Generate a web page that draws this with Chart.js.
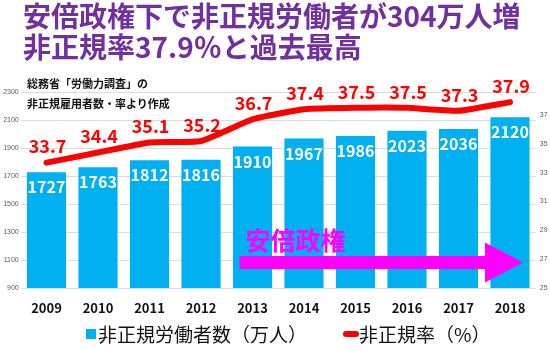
<!DOCTYPE html>
<html>
<head>
<meta charset="utf-8">
<script src="https://cdn.jsdelivr.net/npm/chart.js@4.4.0/dist/chart.umd.min.js"></script>
<style>
  body { margin: 0; background: #fff; }
  #wrap { position: relative; width: 550px; height: 351px; overflow: hidden; font-family: "Noto Sans CJK JP", sans-serif; }
  #title { position: absolute; left: 23px; top: 0px; color: #7030a0; font-weight: bold; font-size: 28px; line-height: 31px; white-space: nowrap; }
  #note { position: absolute; left: 27px; top: 73px; color: #111; font-weight: bold; font-size: 11px; line-height: 20px; white-space: nowrap; }
  #legend { position: absolute; left: 86px; top: 317px; font-size: 19px; color: #111; white-space: nowrap; }
  #legend span { display: inline-block; vertical-align: middle; }
  .sq { width: 10px; height: 10px; background: #00b0f0; margin-right: 2px; }
  .ln { width: 16px; height: 6px; background: #ff0000; border-radius: 3px; margin-left: 36px; }
  canvas { position: absolute; left: 0; top: 0; }
</style>
</head>
<body>
<div id="wrap">
  <canvas id="chart" width="550" height="351"></canvas>
  <div id="title">安倍政権下で非正規労働者が304万人増<br>非正規率37.9％と過去最高</div>
  <div id="note">総務省「労働力調査」の<br>非正規雇用者数・率より作成</div>
  <div id="legend"><span class="sq"></span><span>非正規労働者数（万人）</span><span class="ln"></span><span>非正規率（%）</span></div>
</div>
<script>
const years = ["2009", "2010", "2011", "2012", "2013", "2014", "2015", "2016", "2017", "2018"];
const workers = [1727, 1763, 1812, 1816, 1910, 1967, 1986, 2023, 2036, 2120];   // 万人
const rates = [33.7, 34.4, 35.1, 35.2, 36.7, 37.4, 37.5, 37.5, 37.3, 37.9];       // %
const workerTicks = [900, 1100, 1300, 1500, 1700, 1900, 2100, 2300];
const rateTicks = [25, 27, 29, 31, 33, 35, 37];

const barColor = "#00b0f0";
const lineColor = "#ff0000";
const abeColor = "#ff00ff";

// value labels + the 安倍政権 arrow
const overlayPlugin = {
  id: "overlay",
  afterDatasetsDraw(chart) {
    const ctx = chart.ctx;
    const xs = chart.scales.x;
    const ys = chart.scales.y;
    ctx.save();

    // arrow
    const start = xs.getPixelForValue(4) - 13;
    const tip = xs.getPixelForValue(9) + 13;
    const headStart = tip - 38;
    const yc = ys.getPixelForValue(1082);
    ctx.fillStyle = abeColor;
    ctx.fillRect(start, yc - 6.5, headStart - start + 1, 13);
    ctx.beginPath();
    ctx.moveTo(headStart, yc - 20);
    ctx.lineTo(tip, yc);
    ctx.lineTo(headStart, yc + 20);
    ctx.closePath();
    ctx.fill();
    ctx.font = 'bold 25px "Noto Sans CJK JP"';
    ctx.textAlign = "left";
    ctx.textBaseline = "alphabetic";
    ctx.fillText("安倍政権", start + 6, yc - 13);

    ctx.textAlign = "center";
    ctx.textBaseline = "middle";
    // bar labels
    ctx.fillStyle = "#fff";
    ctx.font = 'bold 16px "Noto Sans CJK JP"';
    chart.getDatasetMeta(1).data.forEach((el, i) => {
      ctx.fillText(workers[i], el.x, el.y + 15);
    });
    // line labels
    ctx.fillStyle = lineColor;
    ctx.font = 'bold 18px "Noto Sans CJK JP"';
    chart.getDatasetMeta(0).data.forEach((el, i) => {
      ctx.fillText(rates[i].toFixed(1), el.x + 1, el.y - 16);
    });
    ctx.restore();
  }
};

const ctx = document.getElementById("chart");
new Chart(ctx, {
  type: "bar",
  data: {
    labels: years,
    datasets: [
      {
        type: "line",
        label: "非正規率（%）",
        data: rates,
        yAxisID: "y1",
        borderColor: lineColor,
        borderWidth: 6,
        borderCapStyle: "round",
        borderJoinStyle: "round",
        tension: 0.15,
        pointRadius: 0,
        order: 0,
      },
      {
        label: "非正規労働者数（万人）",
        data: workers,
        yAxisID: "y",
        backgroundColor: barColor,
        barPercentage: 0.76,
        categoryPercentage: 1,
        order: 1,
      },
    ],
  },
  options: {
    responsive: false,
    animation: false,
    layout: { padding: { top: 92, bottom: 33, left: 0, right: 0 } },
    plugins: {
      legend: { display: false },
      tooltip: { enabled: false },
    },
    scales: {
      x: {
        grid: { display: false },
        border: { display: false },
        ticks: { color: "#111", font: { size: 13, weight: "bold", family: "Noto Sans CJK JP" }, padding: 4 },
        afterFit: (s) => { s.height = 30; },
      },
      y: {
        position: "left",
        min: 900,
        max: 2300,
        afterBuildTicks: (s) => { s.ticks = workerTicks.map((v) => ({ value: v })); },
        ticks: { color: "#595959", font: { size: 7 }, padding: 2, callback: (v) => String(v) },
        grid: { color: "#dcdcdc", drawTicks: false },
        border: { display: false },
        afterFit: (s) => { s.width = 20.75; },
      },
      y1: {
        position: "right",
        min: 25,
        max: 38.6,
        afterBuildTicks: (s) => { s.ticks = rateTicks.map((v) => ({ value: v })); },
        ticks: { color: "#595959", font: { size: 7 }, padding: 4, callback: (v) => String(v) },
        grid: { display: false, drawTicks: false },
        border: { display: false },
        afterFit: (s) => { s.width = 14.25; },
      },
    },
  },
  plugins: [overlayPlugin],
});
</script>
</body>
</html>
